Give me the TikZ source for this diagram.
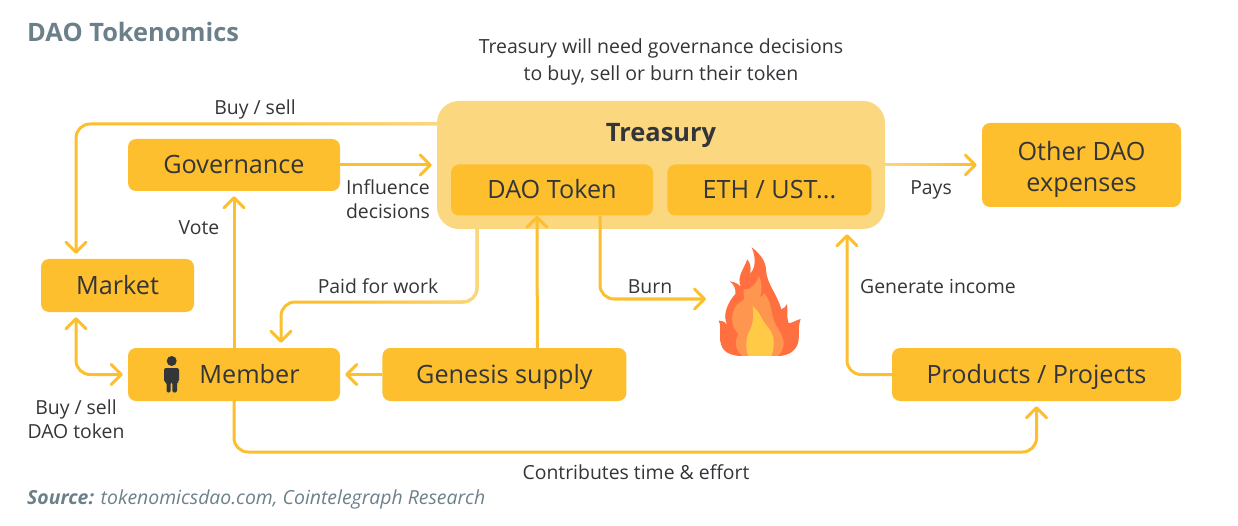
\documentclass[tikz,border=0pt]{standalone}
\usepackage{xcolor}
\usepackage{fontspec}
\setmainfont{Open Sans}
\usepackage{tikz}
\usetikzlibrary{arrows.meta,positioning,fadings}
\definecolor{daoamber}{HTML}{FDBF2D}
\definecolor{daopale}{HTML}{FBD77F}
\definecolor{daotext}{HTML}{333538}
\definecolor{daogrey}{HTML}{6C808A}
\definecolor{flameouter}{HTML}{FF6F40}
\definecolor{flamemid}{HTML}{FF9650}
\definecolor{flameinner}{HTML}{FFCB47}
\tikzfading[name=paleright,left color=transparent!100,right color=transparent!0]
\tikzfading[name=paleleft,left color=transparent!0,right color=transparent!100]
\tikzset{
  bigbox/.style={fill=daoamber,rounded corners=8pt,text=daotext,font=\fontsize{25.2}{31}\selectfont,align=center,inner sep=0pt},
  onebox/.style={bigbox,text height=18pt,text depth=0pt},
  lab/.style={text=daotext,font=\fontsize{19.4}{24}\selectfont,align=center,inner sep=0pt},
  link/.style={-{Straight Barb[length=10pt,width=20pt,round]},line width=3pt,draw=daoamber,rounded corners=14pt,shorten >=5pt},
  palelink/.style={line width=3pt,draw=daopale,rounded corners=14pt}
}
\begin{document}
\begin{tikzpicture}[x=1pt,y=-1pt]
  \useasboundingbox (0,0) rectangle (1238,526);
  \node[font=\fontsize{25.4}{30}\selectfont\bfseries,text=daogrey,anchor=west,inner sep=0pt] (title) at (27,32) {DAO Tokenomics};
  \node[lab,font=\fontsize{19.5}{27}\selectfont] (note) at (661,62) {Treasury will need governance decisions\\to buy, sell or burn their token};
  \node[fill=daopale,rounded corners=22pt,minimum width=448pt,minimum height=128pt,inner sep=0pt] (treasury) at (661,165) {};
  \node[font=\fontsize{25.4}{30}\selectfont\bfseries,text=daotext,inner sep=0pt,text height=18pt,text depth=0pt] (treasurylab) at (661,133) {Treasury};
  \node[onebox,minimum width=202pt,minimum height=51pt] (daotoken) at (552,190) {DAO Token};
  \node[onebox,minimum width=204pt,minimum height=51pt,right=14pt of daotoken] (ethust) {ETH / UST...};
  \node[onebox,minimum width=212pt,minimum height=52pt] (governance) at (234,165) {Governance};
  \node[onebox,minimum width=153pt,minimum height=53pt] (market) at (117.5,285.5) {Market};
  \node[onebox,minimum width=212pt,minimum height=53pt] (member) at (234,374.5) {};
  \node[onebox,fill=none] (memberlab) at (249.5,374.5) {Member};
  \node[onebox,minimum width=244pt,minimum height=53pt,right=42pt of member] (genesis) {Genesis supply};
  \node[onebox,minimum width=289pt,minimum height=53pt] (products) at (1036.5,374.5) {Products / Projects};
  \node[bigbox,minimum width=199pt,minimum height=84pt,text height=54pt,text depth=0pt] (other) at (1081.5,165) {Other DAO\\expenses};
  % labels
  \node[lab] (buysell) at (255,109) {Buy / sell};
  \node[lab] (influence) at (388,199) {Influence\\decisions};
  \node[lab] (vote) at (199,228) {Vote};
  \node[lab] (paid) at (378,286) {Paid for work};
  \node[lab] (burn) at (650,287) {Burn};
  \node[lab] (income) at (938,286) {Generate income};
  \node[lab] (pays) at (931,190) {Pays};
  \node[lab] (buytoken) at (76,419) {Buy / sell\\DAO token};
  \node[lab] (contributes) at (636,472) {Contributes time \& effort};
  \node[font=\fontsize{19.4}{24}\selectfont\itshape,text=daogrey,anchor=west,inner sep=0pt] (source) at (27,499) {\textbf{Source:} tokenomicsdao.com, Cointelegraph Research};
  % bends and free ends
  \coordinate (paidbend) at (379,302);
  \coordinate (burnend) at (711,299);
  \coordinate (contribbend) at (636,452);
  \coordinate (buyfade) at (230,124);
  \coordinate (paidfade) at (350,302);
  \coordinate (paysfade) at (970,165);
  % connectors
  \draw[link] ([yshift=41pt]treasury.west) -| ([xshift=-41.5pt]market.north);
  \draw[link] (governance) -- (treasury);
  \draw[link] (member.north) -- (governance.south);
  \draw[link,shorten <=5pt,{Straight Barb[length=10pt,width=20pt,round]}-{Straight Barb[length=10pt,width=20pt,round]}] ([xshift=-41.5pt]market.south) |- (member.west);
  \draw[link] ([xshift=-184pt]treasury.south) |- (paidbend) -| ([xshift=47pt]member.north);
  \draw[link] (genesis) -- (member);
  \draw[link,shorten >=0pt] ([xshift=33pt]genesis.north) -- ([xshift=-15pt]daotoken.south);
  \draw[link] ([xshift=48pt]daotoken.south) |- (burnend);
  \draw[link] (products.west) -| ([xshift=186pt]treasury.south);
  \draw[link] (member.south) |- (contribbend) -| (products.south);
  \draw[link] (treasury) -- (other);
  % pale ends of the treasury lines
  \draw[palelink,path fading=paleright] (buyfade) -- ([yshift=41pt]treasury.west);
  \draw[palelink,path fading=paleright] (paidfade) -| ([xshift=-184pt]treasury.south);
  \draw[palelink,path fading=paleleft] (treasury.east) -- (paysfade);
  % person
  \fill[daotext] (171.7,361) circle (5);
  \fill[daotext,rounded corners=2pt] (164,382) -- (164,368) -- (179,368) -- (179,382) -- (177,382) -- (177,392.5) -- (172.3,392.5) -- (172.3,382) -- (170.7,382) -- (170.7,392.5) -- (166.5,392.5) -- (166.5,382) -- cycle;
  % flame
  \begin{scope}[shift={(640,220)},x=0.3333pt,y=-0.3333pt]
    \fill[flameouter] (300,408) .. controls (255,405) and (240,385) .. (240,350) .. controls (240,330) and (243,315) .. (236,302) .. controls (250,302) and (258,308) .. (262,315) .. controls (245,285) and (265,245) .. (286,222) .. controls (288,205) and (282,195) .. (270,184) .. controls (285,186) and (295,192) .. (302,200) .. controls (290,170) and (310,150) .. (322,118) .. controls (332,130) and (334,145) .. (330,160) .. controls (345,150) and (350,115) .. (335,82) .. controls (360,100) and (378,125) .. (378,150) .. controls (380,190) and (410,220) .. (424,268) .. controls (432,265) and (438,260) .. (441,252) .. controls (445,270) and (438,290) .. (446,310) .. controls (458,308) and (470,300) .. (482,297) .. controls (474,315) and (478,340) .. (476,360) .. controls (472,390) and (450,405) .. (420,408) -- cycle;
    \fill[flamemid] (308,408) .. controls (290,395) and (280,370) .. (295,342) .. controls (278,325) and (268,295) .. (285,262) .. controls (292,250) and (305,245) .. (312,238) .. controls (312,228) and (312,218) .. (310,208) .. controls (330,212) and (352,190) .. (356,168) .. controls (368,190) and (366,210) .. (360,232) .. controls (365,230) and (370,225) .. (372,220) .. controls (398,245) and (392,290) .. (408,315) .. controls (420,335) and (435,360) .. (430,378) .. controls (427,395) and (420,402) .. (414,408) -- cycle;
    \fill[flameinner] (325,408) .. controls (316,385) and (318,360) .. (325,340) .. controls (338,320) and (342,290) .. (338,258) .. controls (350,268) and (362,285) .. (368,300) .. controls (378,318) and (395,330) .. (400,352) .. controls (403,375) and (400,395) .. (394,408) -- cycle;
  \end{scope}
\end{tikzpicture}
\end{document}
